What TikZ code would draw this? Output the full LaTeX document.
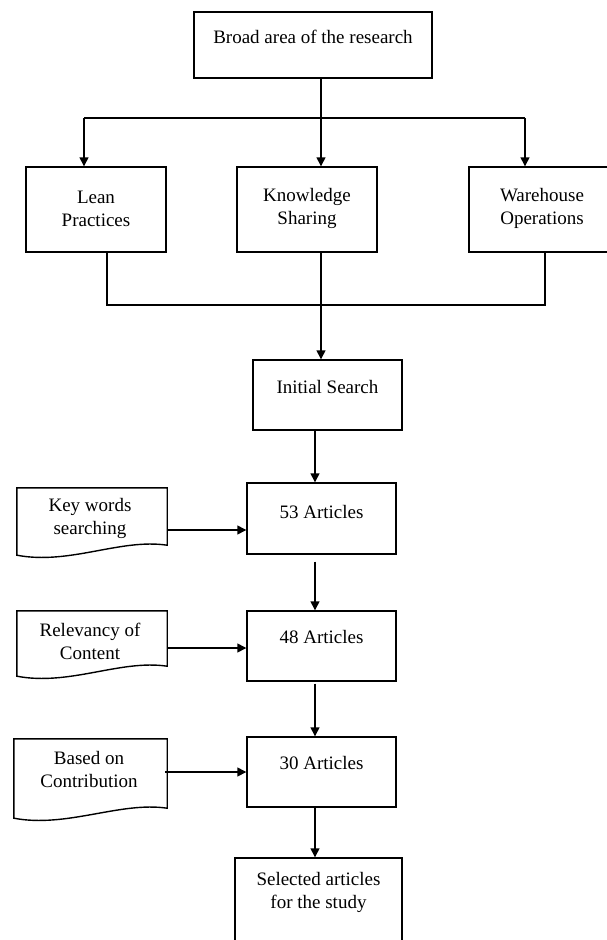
\documentclass[tikz,border=0pt]{standalone}
\usepackage{fontspec}
\setmainfont{Liberation Serif}
\usetikzlibrary{arrows.meta,calc}
\begin{document}
\begin{tikzpicture}[x=1pt,y=-1pt,
  box/.style={draw, line width=1.4pt, rectangle, inner sep=0pt},
  docnode/.style={rectangle, inner sep=0pt},
  txt/.style={font=\fontsize{19}{23}\selectfont, align=center, inner sep=0pt},
  arr/.style={line width=1.4pt, -{Triangle[length=9pt,width=9pt]}},
  ln/.style={line width=1.4pt}]
\useasboundingbox (0,0) rectangle (607,940);

% boxes
\node[box, minimum width=238pt, minimum height=66pt,
      label={[txt,yshift=8pt]center:Broad area of the research}] (top) at (313,45) {};
\node[box, minimum width=140pt, minimum height=85pt,
      label={[txt,yshift=1pt]center:Lean\\Practices}] (lean) at (96,209.5) {};
\node[box, minimum width=140pt, minimum height=85pt,
      label={[txt,yshift=1pt]center:Knowledge\\Sharing}] (know) at (307,209.5) {};
\node[box, minimum width=156pt, minimum height=85pt,
      label={[txt,yshift=1pt,xshift=-5pt]center:Warehouse\\Operations}] (ware) at (547,209.5) {};
\node[box, minimum width=149pt, minimum height=70pt,
      label={[txt,yshift=8pt]center:Initial Search}] (init) at (327.5,395) {};
\node[box, minimum width=149pt, minimum height=71pt,
      label={[txt,yshift=6.5pt]center:53 Articles}] (a53) at (321.5,518.5) {};
\node[box, minimum width=149pt, minimum height=70pt,
      label={[txt,yshift=9pt]center:48 Articles}] (a48) at (321.5,646) {};
\node[box, minimum width=149pt, minimum height=70pt,
      label={[txt,yshift=9pt]center:30 Articles}] (a30) at (321.5,772) {};
\node[box, minimum width=167pt, minimum height=100pt,
      label={[txt,yshift=15.5pt]center:Selected articles\\for the study}] (sel) at (318.5,908) {};

% document shapes
\node[docnode, minimum width=150pt, minimum height=57pt,
      label={[txt,yshift=-2pt,xshift=-2pt]center:Key words\\searching}] (kw) at (92,516.5) {};
\node[docnode, minimum width=150pt, minimum height=55pt,
      label={[txt,yshift=-2.5pt,xshift=-2pt]center:Relevancy of\\Content}] (rel) at (92,638.5) {};
\node[docnode, minimum width=153pt, minimum height=69pt,
      label={[txt,yshift=4.5pt,xshift=-1.5pt]center:Based on\\Contribution}] (bas) at (90.5,773.5) {};
\foreach \d in {kw,rel,bas}{
  \draw[ln] (\d.south east) -- (\d.north east) -- (\d.north west) -- ($(\d.south west)+(0,10)$)
    .. controls ($(\d.south west)+(53,20)$) and ($(\d.south east)+(-47,-7)$) .. (\d.south east) -- cycle;
}

% top fan-out
\coordinate (j1) at (321,118);
\coordinate (jl) at (84,118);
\coordinate (jr) at (525,118);
\draw[ln] (top.south -| j1) -- (j1);
\draw[ln] (jl) -- (jr);
\draw[arr] (jl) -- (jl |- lean.north);
\draw[arr] (j1) -- (j1 |- know.north);
\draw[arr] (jr) -- (jr |- ware.north);

% merge
\coordinate (ml) at (107,305);
\coordinate (mm) at (321,305);
\coordinate (mr) at (545,305);
\draw[ln] (ml |- lean.south) -- (ml) -- (mr) -- (mr |- ware.south);
\draw[ln] (mm |- know.south) -- (mm);
\draw[arr] (mm) -- (mm |- init.north);

% main chain
\draw[arr] ([xshift=-6.5pt]a53.north |- init.south) -- ([xshift=-6.5pt]a53.north);
\draw[arr, shorten <=7pt] ([xshift=-6.5pt]a53.south) -- ([xshift=-6.5pt]a48.north);
\draw[arr, shorten <=2pt] ([xshift=-6.5pt]a48.south) -- ([xshift=-6.5pt]a30.north);
\draw[arr] ([xshift=-6.5pt]a30.south) -- ([xshift=-6.5pt]a30.south |- sel.north);

% side inputs
\draw[arr] ([yshift=-13.5pt]kw.east) -- ([yshift=-13.5pt]kw.east -| a53.west);
\draw[arr] ([yshift=-9.5pt]rel.east) -- ([yshift=-9.5pt]rel.east -| a48.west);
\draw[arr] ([yshift=1.5pt,xshift=-2pt]bas.east) -- ([yshift=1.5pt]bas.east -| a30.west);
\end{tikzpicture}
\end{document}
